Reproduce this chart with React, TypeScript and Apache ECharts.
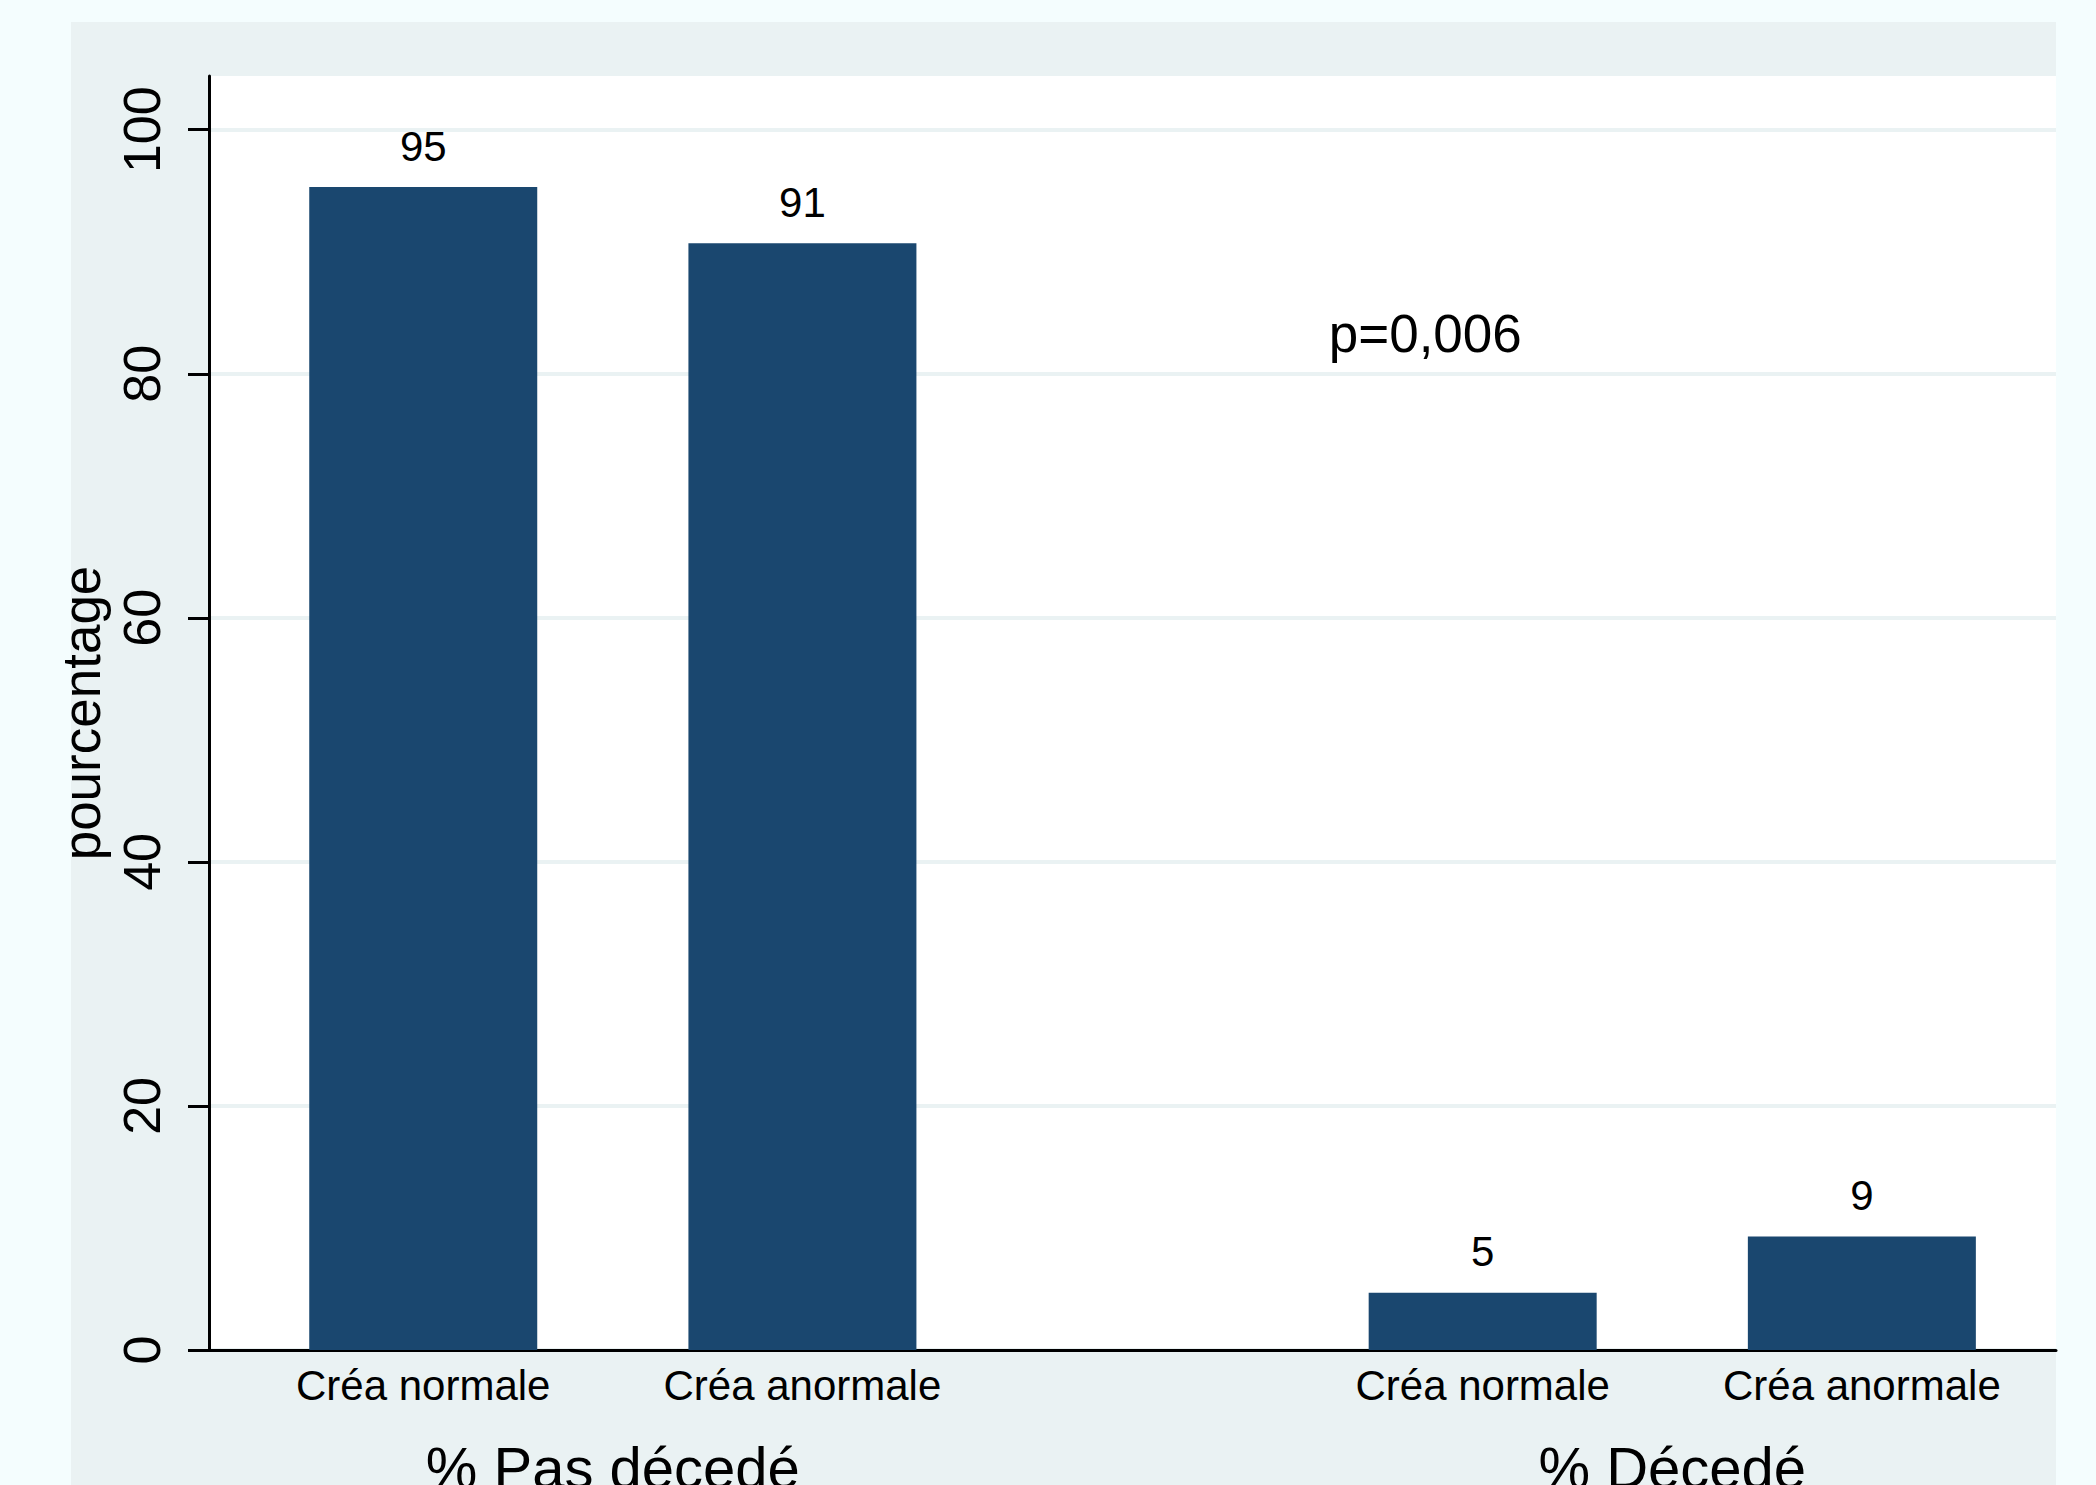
import React, { useEffect, useRef } from "react";
import * as echarts from "echarts";

const barNames = ["Créa normale", "Créa anormale", "Créa normale", "Créa anormale"];
const barPositions = [0, 1, 2.794, 3.794];
const barValues = [95.3, 90.7, 4.7, 9.3];
const groupNames = ["% Pas décedé", "% Décedé"];
const groupPositions = [0.5, 3.294];
const yTicks = [0, 20, 40, 60, 80, 100];
const annotation = { text: "p=0,006", x: 2.388, y: 83.3 };

const FONT = "'Liberation Sans', Arial, Helvetica, sans-serif";

function nearestName(v: number, pos: number[], names: string[]) {
  let best = 0;
  for (let i = 1; i < pos.length; i++) {
    if (Math.abs(pos[i] - v) < Math.abs(pos[best] - v)) best = i;
  }
  return names[best];
}

export default function App() {
  const ref = useRef<HTMLDivElement>(null);
  useEffect(() => {
    if (!ref.current) return;
    const chart = echarts.init(ref.current, undefined, { renderer: "svg" });
    const xMin = -0.565;
    const xMax = 4.306;
    chart.setOption({
      animation: false,
      backgroundColor: "#F4FDFE",
      textStyle: { fontFamily: FONT },
      graphic: [
        {
          type: "rect",
          z: -10,
          silent: true,
          shape: { x: 71, y: 22, width: 1985, height: 1463 },
          style: { fill: "#EAF2F3" },
        },
      ],
      grid: {
        left: 209,
        top: 76,
        right: 40,
        bottom: 135,
        outerBoundsMode: "none",
        containLabel: false,
        show: true,
        backgroundColor: "#FFFFFF",
        borderWidth: 0,
      },
      xAxis: [
        {
          type: "value",
          min: xMin,
          max: xMax,
          position: "bottom",
          axisLine: { show: true, onZero: false, lineStyle: { color: "#000", width: 3 } },
          axisTick: { show: false },
          splitLine: { show: false },
          axisLabel: {
            customValues: barPositions,
            formatter: (v: number) => nearestName(v, barPositions, barNames),
            fontSize: 42,
            color: "#000",
            fontFamily: FONT,
            margin: 14,
          },
        },
        {
          type: "value",
          min: xMin,
          max: xMax,
          position: "bottom",
          axisLine: { show: false, onZero: false },
          axisTick: { show: false },
          splitLine: { show: false },
          axisLabel: {
            customValues: groupPositions,
            formatter: (v: number) => nearestName(v, groupPositions, groupNames),
            fontSize: 58,
            color: "#000",
            fontFamily: FONT,
            margin: 88,
          },
        },
      ],
      yAxis: {
        type: "value",
        min: 0,
        max: 104.4,
        interval: 20,
        position: "left",
        name: "pourcentage",
        nameLocation: "middle",
        nameRotate: 90,
        nameGap: 98,
        nameTextStyle: { fontSize: 53, color: "#000", fontFamily: FONT },
        axisLine: { show: true, onZero: false, lineStyle: { color: "#000", width: 3 } },
        axisTick: {
          show: true,
          customValues: yTicks,
          length: 21,
          lineStyle: { color: "#000", width: 3 },
        },
        splitLine: { show: true, lineStyle: { color: "#EAF2F3", width: 4 } },
        axisLabel: {
          customValues: yTicks,
          rotate: 90,
          fontSize: 52,
          color: "#000",
          fontFamily: FONT,
          margin: 41,
        },
      },
      series: [
        {
          type: "bar",
          xAxisIndex: 0,
          barWidth: 228,
          itemStyle: { color: "#1A476F" },
          label: {
            show: true,
            position: "top",
            distance: 20,
            fontSize: 42,
            color: "#000",
            fontFamily: FONT,
            formatter: (p: any) => String(Math.round(p.value[1])),
          },
          data: barPositions.map((x, i) => [x, barValues[i]]),
        },
        {
          type: "scatter",
          xAxisIndex: 0,
          symbolSize: 0,
          silent: true,
          z: 5,
          itemStyle: { opacity: 1 },
          label: {
            show: true,
            position: "right",
            distance: 0,
            fontSize: 53,
            color: "#000",
            opacity: 1,
            fontFamily: FONT,
            formatter: annotation.text,
          },
          data: [[annotation.x, annotation.y]],
        },
      ],
    });
    return () => chart.dispose();
  }, []);
  return (
    <div
      ref={ref}
      style={{ position: "absolute", left: 0, top: 0, width: 2096, height: 1485 }}
    />
  );
}
